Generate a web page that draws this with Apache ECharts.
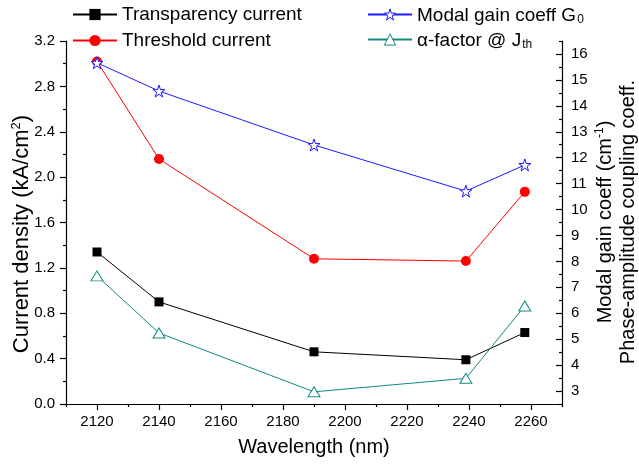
<!DOCTYPE html>
<html>
<head>
<meta charset="utf-8">
<script src="https://cdn.jsdelivr.net/npm/echarts@6/dist/echarts.min.js"></script>
<style>
  html, body { margin: 0; padding: 0; background: #fff; }
  #chart { width: 639px; height: 467px; }
</style>
</head>
<body>
<div id="chart"></div>
<script>
// Laser characteristics versus emission wavelength
const wavelength = [2120, 2140, 2190, 2239, 2258];           // nm
const transparencyCurrent = [1.34, 0.90, 0.46, 0.39, 0.63];  // kA/cm^2
const thresholdCurrent = [3.02, 2.16, 1.28, 1.26, 1.87];     // kA/cm^2
const modalGain = [15.66, 14.57, 12.49, 10.71, 11.72];       // cm^-1
const alphaFactor = [7.44, 5.24, 2.97, 3.49, 6.28];          // at J_th

// Tick positions
const xMajorTicks = [2120, 2140, 2160, 2180, 2200, 2220, 2240, 2260];
const xMinorTicks = [2110, 2130, 2150, 2170, 2190, 2210, 2230, 2250, 2270];
const rightMajorTicks = [3, 4, 5, 6, 7, 8, 9, 10, 11, 12, 13, 14, 15, 16];
const rightMinorTicks = [2.5, 3.5, 4.5, 5.5, 6.5, 7.5, 8.5, 9.5, 10.5, 11.5, 12.5, 13.5, 14.5, 15.5, 16.5];

const FONT = 'Liberation Sans';
const BLUE = '#1a1aff';
const TEAL = '#128a84';
const STAR = 'path://M50,0 L61.2,34.5 L97.6,34.5 L68.2,55.9 L79.4,90.5 L50,69.1 L20.6,90.5 L31.8,55.9 L2.4,34.5 L38.8,34.5 Z';
const pairs = ys => wavelength.map((x, i) => [x, ys[i]]);

const chart = echarts.init(document.getElementById('chart'), null, { renderer: 'canvas' });

const axisLine = { show: true, lineStyle: { color: '#000', width: 1.2 } };
const tickLine = { color: '#000', width: 1.2 };
const labelStyle = { color: '#000', fontSize: 15, fontFamily: FONT };

const legendText = {
  color: '#000', fontSize: 19, fontFamily: FONT, lineHeight: 16,
  rich: {
    m: { fontSize: 19, fontFamily: FONT, color: '#000', lineHeight: 16, verticalAlign: 'top' },
    sub: { fontSize: 12, fontFamily: FONT, color: '#000', lineHeight: 12, padding: [11, 0, 0, 1] }
  }
};

chart.setOption({
  animation: false,
  backgroundColor: '#fff',
  grid: { left: 66, right: 77, top: 41, bottom: 63, containLabel: false },
  legend: [
    {
      data: ['Transparency current', 'Threshold current'],
      orient: 'vertical', left: 72, top: 5, padding: 0,
      itemWidth: 44, itemHeight: 14, itemGap: 7,
      selectedMode: false,
      textStyle: legendText
    },
    {
      data: [
        { name: 'Modal gain coeff G0', itemStyle: { color: '#fff', borderColor: BLUE, borderWidth: 1 } },
        { name: 'α-factor @ Jth', itemStyle: { color: '#fff', borderColor: TEAL, borderWidth: 1 } }
      ],
      orient: 'vertical', left: 367, top: 3, padding: 0,
      itemWidth: 44, itemHeight: 14, itemGap: 2,
      selectedMode: false,
      formatter: name => name === 'Modal gain coeff G0'
        ? '{m|Modal gain coeff G}{sub|0}'
        : '{m|α-factor @ J}{sub|th}',
      textStyle: legendText
    }
  ],
  xAxis: [
    {
      type: 'value', min: 2110, max: 2270, position: 'bottom',
      axisLine: axisLine,
      axisTick: { show: true, inside: false, length: 6, customValues: xMajorTicks, lineStyle: tickLine },
      axisLabel: { show: true, customValues: xMajorTicks, margin: 10, formatter: v => String(v), ...labelStyle },
      splitLine: { show: false }
    },
    {
      type: 'value', min: 2110, max: 2270, position: 'bottom',
      axisLine: { show: false },
      axisTick: { show: true, inside: false, length: 3, customValues: xMinorTicks, lineStyle: tickLine },
      axisLabel: { show: false },
      splitLine: { show: false }
    }
  ],
  yAxis: [
    {
      type: 'value', min: 0, max: 3.2, interval: 0.4, position: 'left',
      axisLine: axisLine,
      axisTick: { show: true, inside: false, length: 6, lineStyle: tickLine },
      minorTick: { show: true, splitNumber: 2, length: 3, lineStyle: tickLine },
      axisLabel: { margin: 11, formatter: v => v.toFixed(1), ...labelStyle },
      splitLine: { show: false }, minorSplitLine: { show: false }
    },
    {
      type: 'value', min: 2.5, max: 16.5, position: 'right',
      axisLine: axisLine,
      axisTick: { show: true, inside: true, length: 6, customValues: rightMajorTicks, lineStyle: tickLine },
      axisLabel: { show: true, customValues: rightMajorTicks, margin: 9, formatter: v => String(v), ...labelStyle },
      splitLine: { show: false }
    },
    {
      type: 'value', min: 2.5, max: 16.5, position: 'right',
      axisLine: { show: false },
      axisTick: { show: true, inside: true, length: 3, customValues: rightMinorTicks, lineStyle: tickLine },
      axisLabel: { show: false },
      splitLine: { show: false }
    }
  ],
  series: [
    {
      name: 'Transparency current', type: 'line', xAxisIndex: 0, yAxisIndex: 0,
      data: pairs(transparencyCurrent),
      symbol: 'rect', symbolSize: 9,
      lineStyle: { color: '#000', width: 1 },
      itemStyle: { color: '#000' }
    },
    {
      name: 'Threshold current', type: 'line', xAxisIndex: 0, yAxisIndex: 0,
      data: pairs(thresholdCurrent),
      symbol: 'circle', symbolSize: 10,
      lineStyle: { color: '#ff0000', width: 1 },
      itemStyle: { color: '#ff0000' }
    },
    {
      name: 'α-factor @ Jth', type: 'line', xAxisIndex: 0, yAxisIndex: 1,
      data: pairs(alphaFactor),
      symbol: 'triangle', symbolSize: [12, 10],
      lineStyle: { color: TEAL, width: 1 },
      itemStyle: { color: '#fff', borderColor: TEAL, borderWidth: 1 }
    },
    {
      name: 'Modal gain coeff G0', type: 'line', xAxisIndex: 0, yAxisIndex: 1,
      data: pairs(modalGain),
      symbol: STAR, symbolSize: 12,
      lineStyle: { color: BLUE, width: 1 },
      itemStyle: { color: '#fff', borderColor: BLUE, borderWidth: 1 }
    }
  ],
  graphic: [
    {
      type: 'text', x: 22, y: 234, rotation: Math.PI / 2,
      style: {
        text: 'Current density (kA/cm{sup|2})',
        fontSize: 22, fontFamily: FONT, fill: '#000', lineHeight: 24,
        align: 'center', verticalAlign: 'middle',
        rich: { sup: { fontSize: 13, fontFamily: FONT, fill: '#000', lineHeight: 13, verticalAlign: 'top' } }
      }
    },
    {
      type: 'text', x: 314, y: 447,
      style: {
        text: 'Wavelength (nm)', fontSize: 20, fontFamily: FONT, fill: '#000',
        align: 'center', verticalAlign: 'middle'
      }
    },
    {
      type: 'text', x: 605, y: 222, rotation: Math.PI / 2,
      style: {
        text: 'Modal gain coeff (cm{sup|-1})',
        fontSize: 20, fontFamily: FONT, fill: '#000', lineHeight: 22,
        align: 'center', verticalAlign: 'middle',
        rich: { sup: { fontSize: 12, fontFamily: FONT, fill: '#000', lineHeight: 12, verticalAlign: 'top' } }
      }
    },
    {
      type: 'text', x: 628, y: 222, rotation: Math.PI / 2,
      style: {
        text: 'Phase-amplitude coupling coeff.', fontSize: 20, fontFamily: FONT, fill: '#000',
        align: 'center', verticalAlign: 'middle'
      }
    }
  ]
});
</script>
</body>
</html>
